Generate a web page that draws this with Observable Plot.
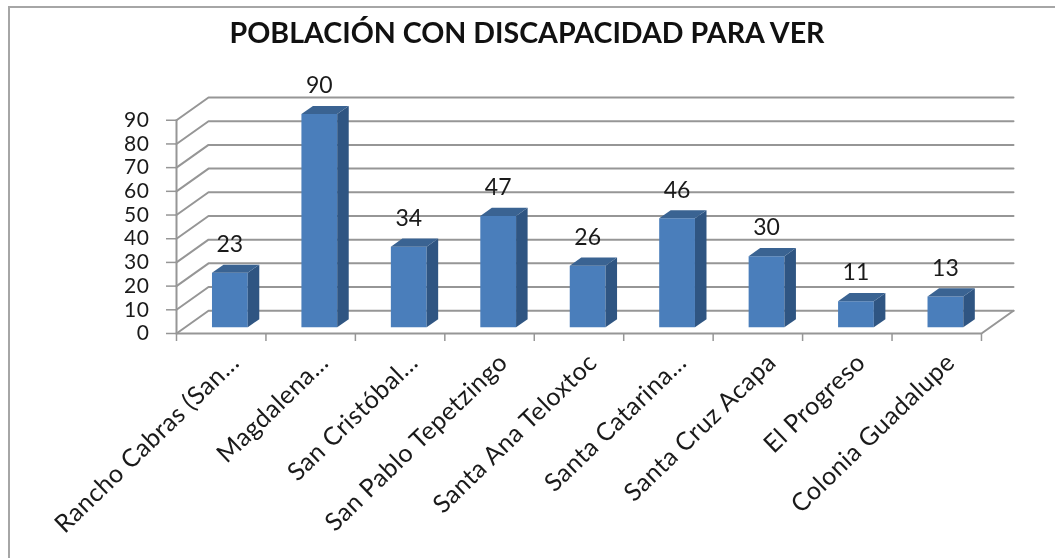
<!DOCTYPE html>
<html><head><meta charset="utf-8">
<script src="https://cdn.jsdelivr.net/npm/d3@7"></script>
<script src="https://cdn.jsdelivr.net/npm/@observablehq/plot@0.6"></script>
<style>
html,body{margin:0;padding:0;background:#fff;overflow:hidden}
#topRule{position:absolute;left:8px;top:6px;width:1047px;height:0;border-top:2px solid #a6a6a6}
#leftRule{position:absolute;left:8px;top:6px;width:0;height:552px;border-left:2px solid #a6a6a6}
#chart{position:absolute;left:0;top:0;filter:blur(0.5px)}
svg{font-family:Lato,sans-serif;background:transparent !important}
.cat text{letter-spacing:0.5px}
.ylab text{letter-spacing:0.6px}
</style></head><body>
<div id="topRule"></div><div id="leftRule"></div><div id="chart"></div>
<script>
const chartTitle = "POBLACIÓN CON DISCAPACIDAD PARA VER";
const categories = ["Rancho Cabras (San...","Magdalena...","San Cristóbal...","San Pablo Tepetzingo","Santa Ana Teloxtoc","Santa Catarina...","Santa Cruz Acapa","El Progreso","Colonia Guadalupe"];
const values = [23,90,34,47,26,46,30,11,13];
const yTicks = [0,10,20,30,40,50,60,70,80,90];
const xTicks = d3.range(categories.length + 1);

// oblique projection depth, in data units of each scale
const depthX = 0.358, depthY = 9.6;
const barWidth = 0.4, nearPlane = 0.27, farPlane = 0.63;
const n = categories.length, yMax = d3.max(yTicks);

const at = (i, v, d) => ({x: i + d * depthX, y: v + d * depthY});
const polys = (fn) => values.flatMap((v, i) => fn(v, i).map(p => ({...p, id: i})));
const left = i => i + 0.5 - barWidth / 2, right = i => i + 0.5 + barWidth / 2;

const frontFaces = polys((v, i) => [at(left(i),0,nearPlane),at(right(i),0,nearPlane),at(right(i),v,nearPlane),at(left(i),v,nearPlane)]);
const sideFaces = polys((v, i) => [at(right(i),0,nearPlane),at(right(i),0,farPlane),at(right(i),v,farPlane),at(right(i),v,nearPlane)]);
const topFaces = polys((v, i) => [at(left(i),v,nearPlane),at(right(i),v,nearPlane),at(right(i),v,farPlane),at(left(i),v,farPlane)]);

const gridLines = yTicks.flatMap(v => [at(0,v,0),at(0,v,1),at(n,v,1)].map(p => ({...p, id: v})));
const floorLines = [at(0,0,0),at(n,0,0),at(n,0,1)];
const frontAxis = [at(0,0,0),at(0,yMax,0)];

const face = (data, fill) => Plot.line(data, {x:"x", y:"y", z:"id", fill, stroke:"none", curve:"linear-closed"});
const gridColor = "#969696";

const plot = Plot.plot({
  width:1055, height:558,
  marginLeft:176, marginRight:42, marginTop:97, marginBottom:225,
  style:{background:"transparent", overflow:"visible"},
  x:{domain:[0, n + depthX], axis:null},
  y:{domain:[0, yMax + depthY], axis:null},
  marks:[
    Plot.line(gridLines, {x:"x", y:"y", z:"id", stroke:gridColor, strokeWidth:2}),
    Plot.line(floorLines, {x:"x", y:"y", stroke:gridColor, strokeWidth:2}),
    Plot.line(frontAxis, {x:"x", y:"y", stroke:gridColor, strokeWidth:2}),
    Plot.axisX({ticks:xTicks, anchor:"bottom", tickFormat:()=>"", tickSize:8, stroke:gridColor, strokeWidth:1.5, tickPadding:0, label:null}),
    Plot.axisY({ticks:yTicks, anchor:"left", tickSize:10, tickPadding:17, stroke:gridColor, strokeWidth:1.5, fill:"#1a1a1a", fontSize:21, label:null, className:"ylab"}),
    face(frontFaces, "#4a7ebb"),
    face(sideFaces, "#2f5582"),
    face(topFaces, "#3a6392"),
    Plot.text(values, {x:(d,i)=>i+0.5+nearPlane*depthX, y:d=>d+farPlane*depthY, text:d=>String(d), dy:-20, fontSize:23, fill:"#1a1a1a"}),
    Plot.text(categories, {x:(d,i)=>i+0.5, y:()=>0, text:d=>d, rotate:-44, textAnchor:"end", dx:14, dy:25, fontSize:25, fill:"#1a1a1a", className:"cat"}),
    Plot.text([chartTitle], {frameAnchor:"top", text:d=>d, dx:-68, dy:-75, fontSize:28.6, fontWeight:700, fill:"#111"})
  ]
});
document.getElementById("chart").append(plot);
</script></body></html>
